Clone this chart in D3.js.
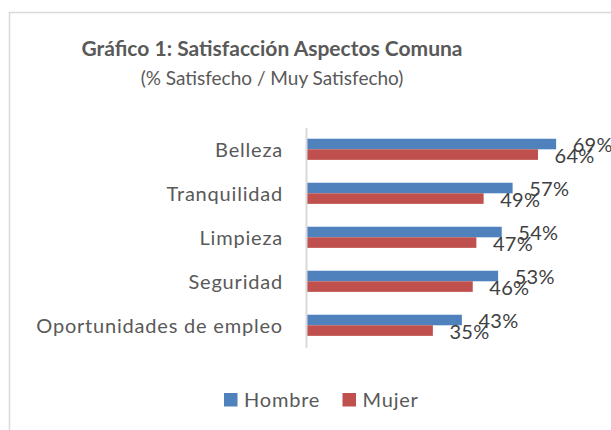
<!DOCTYPE html>
<html>
<head>
<meta charset="utf-8">
<script src="https://cdn.jsdelivr.net/npm/d3@7"></script>
<style>
  body { margin: 0; background: #fff; }
  text { font-family: Lato, sans-serif; }
</style>
</head>
<body>
<script>
const categories = ['Belleza', 'Tranquilidad', 'Limpieza', 'Seguridad', 'Oportunidades de empleo'];
const series = ['Hombre', 'Mujer'];
const hombre = [0.69, 0.57, 0.54, 0.53, 0.43];
const mujer = [0.64, 0.49, 0.47, 0.46, 0.35];
const colors = ['#4f81bd', '#c0504d'];

const w = 611;
const h = 430;

const svg = d3.select('body')
              .append('svg')
              .attr('width', w)
              .attr('height', h);

// chart area border (right and bottom edges are cut off in the picture)
svg.append('rect')
   .attr('x', 9.5)
   .attr('y', 12.5)
   .attr('width', 700)
   .attr('height', 500)
   .attr('fill', '#fff')
   .attr('stroke', '#d9d9d9')
   .attr('stroke-width', 1.5);

svg.append('text')
   .text('Gráfico 1: Satisfacción Aspectos Comuna')
   .attr('x', 272)
   .attr('y', 56)
   .attr('text-anchor', 'middle')
   .attr('font-size', 21)
   .attr('font-weight', 'bold')
   .attr('fill', '#595959');

svg.append('text')
   .text('(% Satisfecho / Muy Satisfecho)')
   .attr('x', 272)
   .attr('y', 85)
   .attr('text-anchor', 'middle')
   .attr('font-size', 19)
   .attr('fill', '#595959');

const xScale = d3.scaleLinear()
                 .domain([0, 0.8])
                 .range([306, 596]);

const yScale = d3.scaleBand()
                 .domain(categories)
                 .range([127.3, 347.3])
                 .paddingInner(0.52)
                 .paddingOuter(0.26);

const ySub = d3.scaleBand()
               .domain(series)
               .range([0, yScale.bandwidth()]);

const rows = categories.map((c, i) => ({cat: c, vals: [hombre[i], mujer[i]]}));

const groups = svg.selectAll('g.cat')
                  .data(rows)
                  .enter()
                  .append('g')
                  .attr('class', 'cat')
                  .attr('transform', (d) => 'translate(0,' + yScale(d.cat) + ')');

groups.selectAll('rect')
      .data((d) => d.vals.map((v, j) => ({s: series[j], v: v, j: j})))
      .enter()
      .append('rect')
      .attr('x', xScale(0))
      .attr('y', (d) => ySub(d.s))
      .attr('width', (d) => xScale(d.v) - xScale(0))
      .attr('height', ySub.bandwidth())
      .attr('fill', (d) => colors[d.j]);

groups.selectAll('text.lbl')
      .data((d) => d.vals.map((v, j) => ({s: series[j], v: v})))
      .enter()
      .append('text')
      .attr('class', 'lbl')
      .text((d) => d3.format('.0%')(d.v))
      .attr('x', (d) => xScale(d.v) + 16.5)
      .attr('y', (d) => ySub(d.s) + ySub.bandwidth() / 2 + 8.4)
      .attr('font-size', 20)
      .attr('letter-spacing', 0.3)
      .attr('fill', '#404040');

const yAxis = d3.axisLeft(yScale).tickSize(0).tickPadding(23);

const ya = svg.append('g')
              .attr('transform', 'translate(' + xScale(0) + ',0)')
              .call(yAxis);
ya.select('.domain')
  .attr('stroke', '#d9d9d9')
  .attr('stroke-width', 2);
ya.selectAll('text')
  .attr('font-family', 'Lato, sans-serif')
  .attr('font-size', 20)
  .attr('letter-spacing', 0.8)
  .attr('fill', '#595959')
  .attr('dy', 7.2);

// legend
const legendX = [224, 342.5];
const legend = svg.selectAll('g.legend')
                  .data(series)
                  .enter()
                  .append('g')
                  .attr('class', 'legend')
                  .attr('transform', (d, i) => 'translate(' + legendX[i] + ',393)');
legend.append('rect')
      .attr('width', 13.5)
      .attr('height', 13.5)
      .attr('fill', (d, i) => colors[i]);
legend.append('text')
      .text((d) => d)
      .attr('x', 20)
      .attr('y', 13.7)
      .attr('font-size', 20)
      .attr('letter-spacing', 0.8)
      .attr('fill', '#595959');
</script>
</body>
</html>
